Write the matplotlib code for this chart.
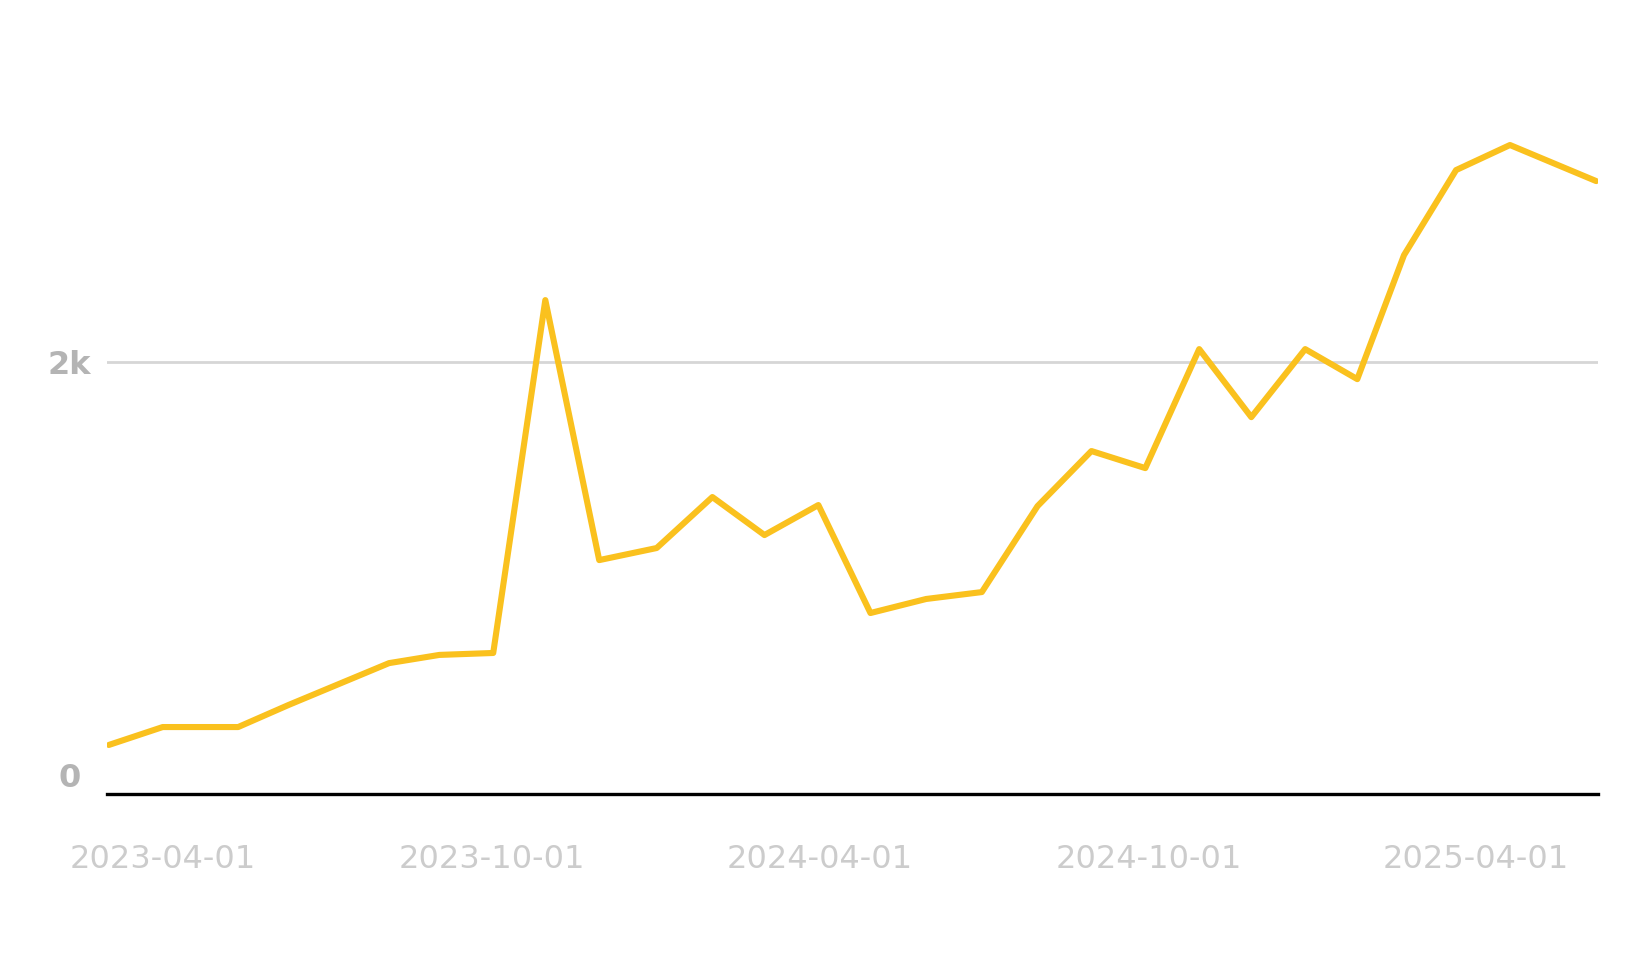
import pandas as pd
import matplotlib
matplotlib.use("Agg")
import matplotlib.pyplot as plt
import matplotlib.dates as mdates

# (dates estimated from x position)
dates = ['2023-03-02', '2023-04-01', '2023-05-13', '2023-06-10', '2023-08-05',
         '2023-09-02', '2023-10-02', '2023-10-31', '2023-11-30', '2024-01-01',
         '2024-02-01', '2024-03-01', '2024-03-31', '2024-04-29', '2024-05-30',
         '2024-06-30', '2024-07-31', '2024-08-30', '2024-09-29', '2024-10-29',
         '2024-11-27', '2024-12-27', '2025-01-25', '2025-02-20', '2025-03-21',
         '2025-04-20', '2025-06-07']
values = [227, 310, 310, 412, 606, 644, 653, 2287, 1083, 1139, 1375, 1199, 1338,
          838, 903, 935, 1333, 1588, 1509, 2060, 1745, 2060, 1921, 2495, 2889,
          3005, 2838]

x_ticks = ['2023-04-01', '2023-10-01', '2024-04-01', '2024-10-01', '2025-04-01']
y_ticks = [0, 2000]
y_labels = ['0', '2k']

x = pd.to_datetime(dates)

fig = plt.figure(figsize=(16.41, 9.59), dpi=100)
ax = fig.add_axes([107/1641, 1 - 794/959, (1598 - 107)/1641, (794 - 124.5)/959])

ax.plot(x, values, color='#FAC11E', linewidth=4.4, solid_joinstyle='round',
        solid_capstyle='round', zorder=3)

ax.set_xlim(pd.Timestamp('2023-03-01'), pd.Timestamp('2025-06-08'))
ax.set_ylim(0, 3100)

ax.set_xticks(pd.to_datetime(x_ticks))
ax.xaxis.set_major_formatter(mdates.DateFormatter('%Y-%m-%d'))
ax.set_yticks(y_ticks)
ax.set_yticklabels(y_labels)

ax.tick_params(axis='x', length=0, pad=36, labelsize=23, labelcolor='#cccccc')
ax.tick_params(axis='y', length=0, pad=27, labelsize=23, labelcolor='#b4b4b4')
for lab in ax.get_yticklabels():
    lab.set_horizontalalignment('center')
    lab.set_fontweight('bold')
ax.get_yticklabels()[0].set_verticalalignment('bottom')

ax.grid(axis='y', color='#d6d6d6', linewidth=2)
ax.grid(axis='x', visible=False)
for s in ['top', 'right', 'left']:
    ax.spines[s].set_visible(False)
ax.spines['bottom'].set_color('black')
ax.spines['bottom'].set_linewidth(2.4)
ax.spines['bottom'].set_zorder(4)

fig.savefig('out.png', dpi=100, facecolor='white')
